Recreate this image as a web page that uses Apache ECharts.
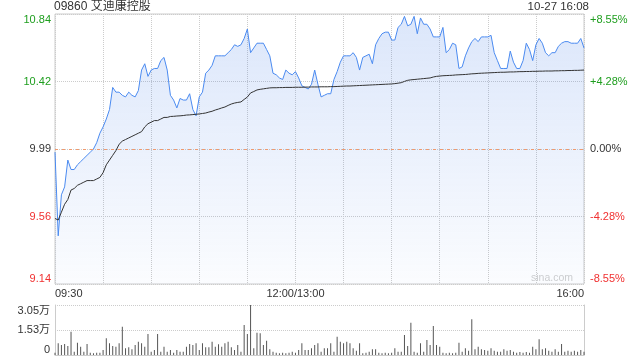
<!DOCTYPE html>
<html>
<head>
<meta charset="utf-8">
<script src="https://cdn.jsdelivr.net/npm/echarts@6/dist/echarts.min.js"></script>
<style>
html, body { margin: 0; padding: 0; background: #fff; }
#chart { width: 640px; height: 360px; }
</style>
</head>
<body>
<div id="chart"></div>
<script>
var stockName = '09860 艾迪康控股'
var stampText = '10-27 16:08'
var prevClose = 9.99
var priceLabels = ['9.14', '9.56', '9.99', '10.42', '10.84']
var pctLabels = ['-8.55%', '-4.28%', '0.00%', '+4.28%', '+8.55%']
var volLabels = ['0', '1.53万', '3.05万']
var timeLabels = { '09:30': '09:30', '12:00': '12:00/13:00', '16:00': '16:00' }

// one point every 2 minutes, 09:30-12:00 and 13:02-16:00
var prices = [
	9.97, 9.44, 9.70, 9.75, 9.92, 9.86, 9.86, 9.89, 9.91, 9.93,
	9.95, 9.97, 9.99, 10.03, 10.09, 10.13, 10.18, 10.24, 10.38, 10.35,
	10.35, 10.33, 10.32, 10.35, 10.33, 10.32, 10.36, 10.49, 10.53, 10.45,
	10.49, 10.50, 10.50, 10.55, 10.57, 10.49, 10.33, 10.30, 10.25, 10.31,
	10.30, 10.30, 10.34, 10.24, 10.20, 10.32, 10.35, 10.47, 10.49, 10.52,
	10.58, 10.58, 10.58, 10.58, 10.60, 10.62, 10.65, 10.64, 10.65, 10.69,
	10.75, 10.60, 10.63, 10.66, 10.66, 10.66, 10.62, 10.58, 10.47, 10.46,
	10.44, 10.43, 10.49, 10.47, 10.46, 10.48, 10.44, 10.39, 10.38, 10.37,
	10.40, 10.49, 10.40, 10.32, 10.33, 10.34, 10.34, 10.43, 10.48, 10.54,
	10.58, 10.58, 10.58, 10.60, 10.57, 10.49, 10.57, 10.58, 10.59, 10.53,
	10.65, 10.69, 10.72, 10.73, 10.73, 10.68, 10.68, 10.76, 10.78, 10.83,
	10.77, 10.78, 10.83, 10.72, 10.82, 10.78, 10.78, 10.75, 10.70, 10.70,
	10.70, 10.76, 10.60, 10.62, 10.66, 10.65, 10.50, 10.51, 10.58, 10.63,
	10.67, 10.69, 10.67, 10.70, 10.70, 10.70, 10.71, 10.60, 10.55, 10.50,
	10.50, 10.50, 10.61, 10.54, 10.50, 10.50, 10.55, 10.66, 10.62, 10.55,
	10.65, 10.69, 10.66, 10.60, 10.58, 10.60, 10.60, 10.64, 10.66, 10.67,
	10.67, 10.66, 10.66, 10.66, 10.69, 10.63
]

var avgPrices = [
	9.55, 9.54, 9.59, 9.64, 9.67, 9.73, 9.74, 9.76, 9.77, 9.78,
	9.79, 9.79, 9.79, 9.80, 9.81, 9.84, 9.89, 9.92, 9.95, 9.98,
	10.02, 10.04, 10.05, 10.06, 10.07, 10.08, 10.09, 10.10, 10.13, 10.15,
	10.16, 10.17, 10.17, 10.18, 10.19, 10.19, 10.196, 10.197, 10.199, 10.200,
	10.202, 10.205, 10.206, 10.208, 10.210, 10.212, 10.215, 10.218, 10.224, 10.229,
	10.237, 10.243, 10.250, 10.256, 10.266, 10.275, 10.281, 10.285, 10.288, 10.304,
	10.319, 10.345, 10.354, 10.364, 10.368, 10.371, 10.374, 10.377, 10.378, 10.378,
	10.379, 10.379, 10.380, 10.380, 10.380, 10.381, 10.381, 10.381, 10.382, 10.382,
	10.383, 10.383, 10.383, 10.384, 10.384, 10.384, 10.385, 10.385, 10.386, 10.387,
	10.388, 10.389, 10.389, 10.390, 10.391, 10.392, 10.393, 10.394, 10.395, 10.396,
	10.397, 10.398, 10.399, 10.400, 10.401, 10.402, 10.404, 10.407, 10.410, 10.418,
	10.425, 10.428, 10.430, 10.432, 10.434, 10.436, 10.438, 10.440, 10.446, 10.450,
	10.452, 10.454, 10.455, 10.456, 10.457, 10.459, 10.460, 10.461, 10.462, 10.464,
	10.466, 10.467, 10.469, 10.470, 10.471, 10.472, 10.473, 10.474, 10.475, 10.476,
	10.476, 10.477, 10.478, 10.478, 10.479, 10.480, 10.480, 10.481, 10.481, 10.482,
	10.482, 10.483, 10.483, 10.484, 10.484, 10.484, 10.485, 10.485, 10.486, 10.486,
	10.487, 10.487, 10.488, 10.488, 10.489, 10.490
]

var volumes = [
	1400, 7100, 6100, 6700, 5500, 14200, 2000, 7500, 5100, 2000,
	6700, 1400, 1000, 1400, 1400, 3000, 10200, 7100, 5500, 5100,
	7100, 17300, 4100, 4700, 3500, 6100, 8100, 7100, 5100, 12800,
	2000, 3000, 12800, 2000, 5100, 2000, 3000, 1400, 3000, 2000,
	2000, 5100, 6700, 6100, 7100, 3000, 7100, 4700, 4700, 8100,
	5100, 6500, 5100, 7100, 8100, 4700, 3000, 6100, 2000, 18300,
	12800, 30500, 4100, 13600, 13200, 6100, 8700, 3500, 2000, 1400,
	1000, 1400, 1000, 1400, 2000, 1400, 3000, 7100, 3000, 3000,
	4100, 6100, 7100, 2000, 4100, 4100, 7100, 2000, 11200, 8100,
	7100, 8100, 7100, 4100, 2600, 7100, 1000, 1400, 2000, 3500,
	3500, 1400, 1000, 1400, 1000, 1400, 4100, 2000, 2000, 12200,
	5500, 19700, 2000, 1400, 7100, 2000, 9100, 6100, 17700, 6100,
	5100, 1400, 1000, 1400, 1000, 1400, 7500, 2000, 4100, 2600,
	21800, 3500, 5100, 3500, 3000, 2600, 4100, 2600, 2000, 2000,
	3500, 2600, 3000, 2000, 1400, 1800, 1400, 1800, 1400, 5100,
	3500, 9600, 3500, 4100, 2600, 2000, 3500, 2000, 6700, 2000,
	2600, 2000, 2600, 2000, 3000, 2000
]

function makeTimes() {
	var list = []
	function pad(n) { return (n < 10 ? '0' : '') + n }
	for (var m = 9 * 60 + 30; m <= 12 * 60; m += 2) list.push(pad(Math.floor(m / 60)) + ':' + pad(m % 60))
	for (var m2 = 13 * 60 + 2; m2 <= 16 * 60; m2 += 2) list.push(pad(Math.floor(m2 / 60)) + ':' + pad(m2 % 60))
	return list
}
var times = makeTimes()

var FONT = '"Liberation Sans", Arial, "Noto Sans CJK SC", sans-serif'
var GREEN = '#1e9e1e'
var RED = '#f03030'

function labelColor(index) {
	if (index > 2) return GREEN
	if (index < 2) return RED
	return '#333'
}

var yMin = 9.135
var yMax = 10.845
var yStep = 0.4275

var chartDom = document.getElementById('chart')
var myChart = echarts.init(chartDom)
var option

option = {
	animation: false,
	textStyle: { fontFamily: FONT },
	title: [
		{
			text: stockName,
			left: 54,
			top: 1,
			padding: 0,
			textStyle: { fontSize: 12, fontWeight: 'normal', color: '#333', fontFamily: FONT },
		},
		{
			text: stampText,
			right: 51,
			top: 1,
			padding: 0,
			textStyle: { fontSize: 11.5, fontWeight: 'normal', color: '#333', fontFamily: FONT },
		},
	],
	graphic: [
		{
			type: 'text',
			right: 67,
			top: 273,
			style: { text: 'sina.com', fill: '#cfcfcf', font: '10.5px ' + FONT },
			silent: true,
		},
	],
	grid: [
		{ left: 55, right: 56, top: 14, height: 270, show: true, borderColor: '#ccc', borderWidth: 1 },
		{ left: 55, right: 56, top: 305, height: 50 },
	],
	xAxis: [
		{
			type: 'category',
			gridIndex: 0,
			data: times,
			boundaryGap: false,
			axisLine: { show: false },
			axisTick: { show: false },
			axisLabel: {
				interval: function (index) {
					return index === 0 || index === 75 || index === times.length - 1
				},
				formatter: function (value) {
					return timeLabels[value] || ''
				},
				alignMinLabel: 'left',
				alignMaxLabel: 'right',
				color: '#333',
				fontSize: 11,
				margin: 4,
			},
			splitLine: {
				show: true,
				interval: function (index) {
					return index % 15 === 0
				},
				lineStyle: { color: '#ccc', type: 'dotted' },
			},
		},
		{
			type: 'category',
			gridIndex: 1,
			data: times,
			boundaryGap: false,
			axisLine: { show: true, lineStyle: { color: '#ccc' } },
			axisTick: { show: false },
			axisLabel: { show: false },
			splitLine: { show: false },
		},
	],
	yAxis: [
		{
			type: 'value',
			gridIndex: 0,
			min: yMin,
			max: yMax,
			interval: yStep,
			axisLine: { show: false },
			axisTick: { show: false },
			axisLabel: {
				formatter: function (value, index) {
					return priceLabels[index]
				},
				color: function (value, index) {
					return labelColor(index)
				},
				fontSize: 11,
				margin: 4,
				verticalAlignMinLabel: 'bottom',
				verticalAlignMaxLabel: 'top',
			},
			splitLine: { show: true, lineStyle: { color: '#ccc', type: 'dotted' } },
		},
		{
			type: 'value',
			gridIndex: 0,
			position: 'right',
			min: yMin,
			max: yMax,
			interval: yStep,
			axisLine: { show: false },
			axisTick: { show: false },
			axisLabel: {
				formatter: function (value, index) {
					return pctLabels[index]
				},
				color: function (value, index) {
					return labelColor(index)
				},
				fontSize: 11,
				margin: 6,
				verticalAlignMinLabel: 'bottom',
				verticalAlignMaxLabel: 'top',
			},
			splitLine: { show: false },
		},
		{
			type: 'value',
			gridIndex: 1,
			min: 0,
			max: 30500,
			interval: 15250,
			axisLine: { show: true, lineStyle: { color: '#ccc' } },
			axisTick: { show: false },
			axisLabel: {
				formatter: function (value, index) {
					return volLabels[index]
				},
				color: '#333',
				fontSize: 11,
				margin: 5,
				verticalAlignMinLabel: 'bottom',
				verticalAlignMaxLabel: 'top',
			},
			splitLine: { show: true, lineStyle: { color: '#ccc', type: 'dotted' } },
		},
		{
			type: 'value',
			gridIndex: 1,
			position: 'right',
			min: 0,
			max: 30500,
			axisLine: { show: true, lineStyle: { color: '#ccc' } },
			axisTick: { show: false },
			axisLabel: { show: false },
			splitLine: { show: false },
		},
	],
	series: [
		{
			name: '价格',
			type: 'line',
			xAxisIndex: 0,
			yAxisIndex: 0,
			data: prices,
			symbol: 'none',
			lineStyle: { color: '#4a8af0', width: 1 },
			areaStyle: {
				origin: 'start',
				color: new echarts.graphic.LinearGradient(0, 0, 0, 1, [
					{ offset: 0, color: 'rgba(60,120,230,0.26)' },
					{ offset: 1, color: 'rgba(60,120,230,0.03)' },
				]),
			},
			markLine: {
				silent: true,
				symbol: 'none',
				label: { show: false },
				lineStyle: { color: '#f09a6e', type: [3, 4], width: 1 },
				data: [{ yAxis: prevClose }],
			},
			z: 3,
		},
		{
			name: '均价',
			type: 'line',
			xAxisIndex: 0,
			yAxisIndex: 0,
			data: avgPrices,
			symbol: 'none',
			lineStyle: { color: '#333', width: 1 },
			z: 4,
		},
		{
			name: '成交量',
			type: 'bar',
			xAxisIndex: 1,
			yAxisIndex: 2,
			data: volumes,
			barWidth: 1,
			itemStyle: { color: '#555' },
		},
	],
}

option && myChart.setOption(option)
</script>
</body>
</html>
